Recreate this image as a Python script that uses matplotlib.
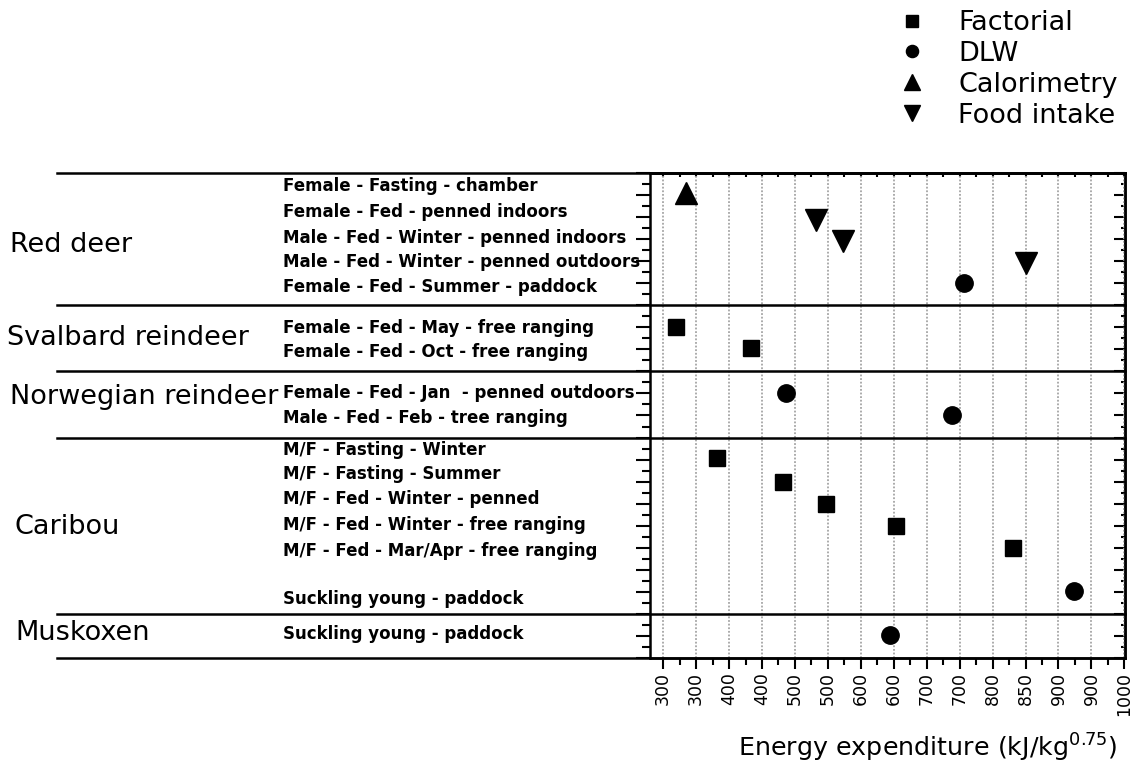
import matplotlib
matplotlib.use("Agg")
import matplotlib.pyplot as plt
from matplotlib.transforms import blended_transform_factory
from matplotlib.ticker import FixedLocator, MultipleLocator, NullFormatter

# ---------------- data ----------------
species = ["Red deer", "Svalbard reindeer", "Norwegian reindeer", "Caribou", "Muskoxen"]
species_label_y = [18.73, 14.51, 11.84, 5.94, 1.13]
species_label_x_px = [10, 7, 10, 15, 15]
group_bounds = [22, 16, 13, 10, 2, 0]

conditions = [
    "Female - Fasting - chamber",
    "Female - Fed - penned indoors",
    "Male - Fed - Winter - penned indoors",
    "Male - Fed - Winter - penned outdoors",
    "Female - Fed - Summer - paddock",
    "Female - Fed - May - free ranging",
    "Female - Fed - Oct - free ranging",
    "Female - Fed - Jan  - penned outdoors",
    "Male - Fed - Feb - tree ranging",
    "M/F - Fasting - Winter",
    "M/F - Fasting - Summer",
    "M/F - Fed - Winter - penned",
    "M/F - Fed - Winter - free ranging",
    "M/F - Fed - Mar/Apr - free ranging",
    "Suckling young - paddock",
    "Suckling young - paddock",
]
condition_label_y = [21.41, 20.23, 19.05, 17.96, 16.83, 14.97, 13.88, 12.02,
                     10.88, 9.43, 8.34, 7.21, 6.03, 4.85, 2.68, 1.09]
row_y = [21.1, 19.85, 18.9, 17.9, 17.0, 15.0, 14.05, 12.0, 11.0,
         9.05, 8.0, 7.0, 6.0, 5.0, 3.05, 1.05]
energy = [335, 532, 573, 850, 756, 319, 433, 486, 739,
          382, 482, 547, 654, 831, 923, 645]
method = ["Calorimetry", "Food intake", "Food intake", "Food intake", "DLW",
          "Factorial", "Factorial", "DLW", "DLW",
          "Factorial", "Factorial", "Factorial", "Factorial", "Factorial", "DLW",
          "DLW"]

methods = ["Factorial", "DLW", "Calorimetry", "Food intake"]
method_marker = {"Factorial": "s", "DLW": "o", "Calorimetry": "^", "Food intake": "v"}
method_size = {"Factorial": 12.2, "DLW": 12.5, "Calorimetry": 16, "Food intake": 16}

xticks = list(range(300, 1001, 50))
xtick_labels = ["300", "300", "400", "400", "500", "500", "600", "600", "700",
                "700", "800", "850", "900", "900", "1000"]
xlabel = "Energy expenditure (kJ/kg$^{0.75}$)"

# ---------------- figure ----------------
W, H = 1142, 775
fig = plt.figure(figsize=(W / 100, H / 100), dpi=100)
L, R, T, B = 650, 1125, 173, 658
ax = fig.add_axes([L / W, 1 - B / H, (R - L) / W, (B - T) / H])
ax.set_xlim(280, 1001)
ax.set_ylim(0, 22)

for m in methods:
    xs = [e for e, mm in zip(energy, method) if mm == m]
    ys = [y for y, mm in zip(row_y, method) if mm == m]
    ax.plot(xs, ys, linestyle="none", marker=method_marker[m],
            markersize=method_size[m], color="black", label=m, zorder=5,
            clip_on=False)

# spines
for s in ax.spines.values():
    s.set_linewidth(1.8)

# x axis
ax.xaxis.set_major_locator(FixedLocator(xticks))
ax.xaxis.set_minor_locator(MultipleLocator(25))
ax.set_xticklabels(xtick_labels, rotation=90, fontsize=12.5, family="DejaVu Sans")
ax.tick_params(axis="x", which="major", direction="out", length=8, width=1.5, pad=2)
ax.tick_params(axis="x", which="minor", direction="out", length=5, width=1.5)
ax.grid(axis="x", which="major", color="#a5a5a5", linestyle=(0, (1, 1)), linewidth=1.3)
ax.set_axisbelow(True)

# y axis
ax.yaxis.set_major_locator(MultipleLocator(1))
ax.yaxis.set_minor_locator(MultipleLocator(0.5))
ax.yaxis.set_major_formatter(NullFormatter())
ax.tick_params(axis="y", which="major", direction="out", length=10, width=1.5)
ax.tick_params(axis="y", which="minor", direction="out", length=6, width=1.5)

# top / right ticks inward
sec_x = ax.secondary_xaxis("top")
sec_x.xaxis.set_major_locator(FixedLocator(xticks))
sec_x.xaxis.set_minor_locator(MultipleLocator(25))
sec_x.xaxis.set_major_formatter(NullFormatter())
sec_x.tick_params(which="both", direction="in", length=3, width=1.5)
sec_x.spines["top"].set_linewidth(1.8)

sec_y = ax.secondary_yaxis("right")
sec_y.yaxis.set_major_locator(MultipleLocator(1))
sec_y.yaxis.set_minor_locator(MultipleLocator(0.5))
sec_y.yaxis.set_major_formatter(NullFormatter())
sec_y.tick_params(which="major", direction="in", length=8, width=1.5)
sec_y.tick_params(which="minor", direction="in", length=3, width=1.5)
sec_y.spines["right"].set_linewidth(1.8)

# group separators (extend into label area)
trans = blended_transform_factory(fig.transFigure, ax.transData)
for gb in group_bounds:
    ax.plot([57 / W, R / W], [gb, gb], transform=trans, color="black",
            linewidth=1.8, clip_on=False, zorder=6)

# species labels
for name, y, xp in zip(species, species_label_y, species_label_x_px):
    ax.text(xp / W, y, name, transform=trans, ha="left", va="center",
            fontsize=19.5, family="DejaVu Sans", color="black")

# condition labels
for name, y in zip(conditions, condition_label_y):
    ax.text(283 / W, y, name, transform=trans, ha="left", va="center",
            fontsize=12, fontweight="bold", family="DejaVu Sans", color="black")

# x label
fig.text(738 / W, 1 - 748 / H, xlabel, ha="left", va="center", fontsize=18.3,
         family="DejaVu Sans")

# legend
leg = fig.legend(loc="upper left", bbox_to_anchor=(893 / W, 1 - 10 / H),
                 frameon=False, fontsize=19.5, markerscale=0.7,
                 handlelength=1.4, handletextpad=1.0, labelspacing=0.18,
                 borderaxespad=0, borderpad=0)

fig.savefig("out.png", dpi=100)
